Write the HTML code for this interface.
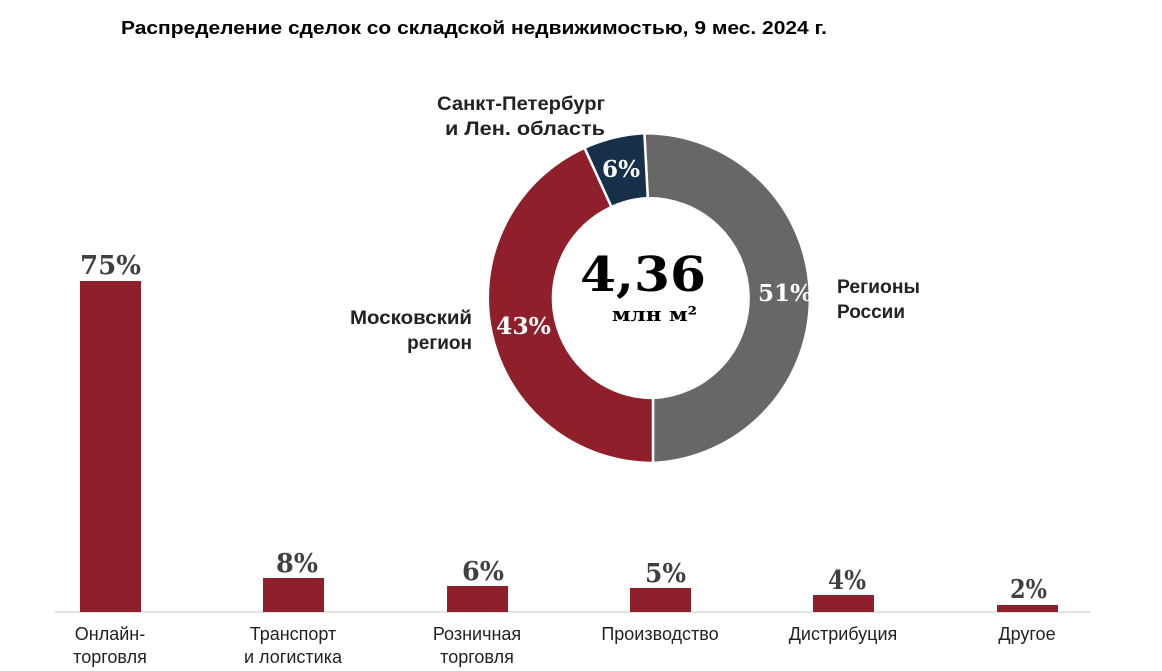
<!DOCTYPE html>
<html><head><meta charset="utf-8"><style>
html,body{margin:0;padding:0;background:#fff;}
svg{display:block}
.s{font-family:"Liberation Sans","DejaVu Sans",sans-serif;}
.b{font-family:"DejaVu Serif","Liberation Serif",serif;font-weight:bold;}
</style></head><body>
<svg width="1162" height="671" viewBox="0 0 1162 671" xmlns="http://www.w3.org/2000/svg">
<text x="121" y="34" class="s" font-size="18" font-weight="bold" fill="#000" textLength="706" lengthAdjust="spacingAndGlyphs">Распределение сделок со складской недвижимостью, 9 мес. 2024 г.</text>

<g stroke="#fff" stroke-width="2.5">
<path d="M644.4,133.2 A165,165 0 0 1 653,463 L653,398 A100,100 0 0 0 647.8,198.1 Z" fill="#676767"/>
<path d="M653,463 A165,165 0 0 1 584.5,147.8 L611.5,207 A100,100 0 0 0 653,398 Z" fill="#8e1f2b"/>
<path d="M584.5,147.8 A165,165 0 0 1 644.4,133.2 L647.8,198.1 A100,100 0 0 0 611.5,207 Z" fill="#17304a"/>
</g>
<g class="b" font-size="23" fill="#fff" lengthAdjust="spacingAndGlyphs">
<text x="602" y="177" textLength="38" lengthAdjust="spacingAndGlyphs">6%</text>
<text x="758" y="301" textLength="54" lengthAdjust="spacingAndGlyphs">51%</text>
<text x="496" y="334" textLength="55" lengthAdjust="spacingAndGlyphs">43%</text>
</g>
<text x="580" y="291" class="b" font-size="48" fill="#000" textLength="126" lengthAdjust="spacingAndGlyphs">4,36</text>
<text x="612" y="321" class="b" font-size="20" fill="#000" textLength="85" lengthAdjust="spacingAndGlyphs">млн м²</text>

<g class="s" font-size="19" font-weight="bold" fill="#222">
<text x="437" y="110" textLength="168" lengthAdjust="spacingAndGlyphs">Санкт-Петербург</text>
<text x="445" y="135" textLength="160" lengthAdjust="spacingAndGlyphs">и Лен. область</text>
<text x="350" y="324" textLength="122" lengthAdjust="spacingAndGlyphs">Московский</text>
<text x="472" y="349" text-anchor="end">регион</text>
<text x="837" y="293" textLength="83" lengthAdjust="spacingAndGlyphs">Регионы</text>
<text x="837" y="318" textLength="68" lengthAdjust="spacingAndGlyphs">России</text>
</g>

<line x1="55" y1="612" x2="1090" y2="612" stroke="#d9d9d9" stroke-width="1.5"/>
<g fill="#8e1f2b">
<rect x="80" y="281" width="61" height="331"/>
<rect x="263" y="578" width="61" height="34"/>
<rect x="447" y="586" width="61" height="26"/>
<rect x="630" y="588" width="61" height="24"/>
<rect x="813" y="595" width="61" height="17"/>
<rect x="997" y="605" width="61" height="7"/>
</g>
<g class="b" font-size="26" fill="#404040">
<text x="80" y="274" textLength="61" lengthAdjust="spacingAndGlyphs">75%</text>
<text x="276" y="572" textLength="42" lengthAdjust="spacingAndGlyphs">8%</text>
<text x="462" y="580" textLength="42" lengthAdjust="spacingAndGlyphs">6%</text>
<text x="645" y="582" textLength="41" lengthAdjust="spacingAndGlyphs">5%</text>
<text x="828" y="589" textLength="38" lengthAdjust="spacingAndGlyphs">4%</text>
<text x="1010" y="598" textLength="37" lengthAdjust="spacingAndGlyphs">2%</text>
</g>
<g class="s" font-size="18" fill="#222" text-anchor="middle">
<text x="110" y="640">Онлайн-</text>
<text x="110" y="663">торговля</text>
<text x="293" y="640">Транспорт</text>
<text x="293" y="663">и логистика</text>
<text x="477" y="640">Розничная</text>
<text x="477" y="663">торговля</text>
<text x="660" y="640">Производство</text>
<text x="843" y="640">Дистрибуция</text>
<text x="1027" y="640">Другое</text>
</g>
</svg>
</body></html>
